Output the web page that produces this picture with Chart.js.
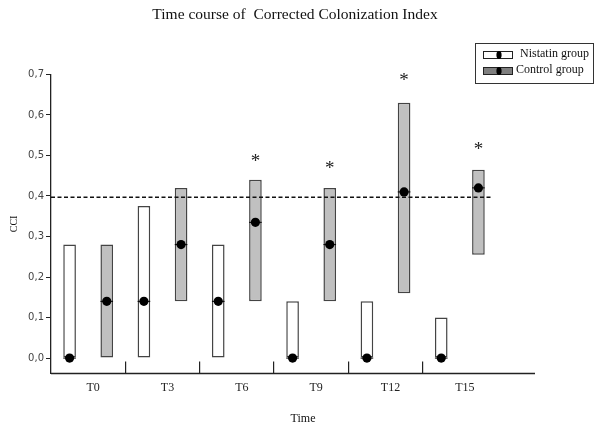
<!DOCTYPE html>
<html>
<head>
<meta charset="utf-8">
<script src="https://cdn.jsdelivr.net/npm/chart.js@4"></script>
<style>
  html, body { margin: 0; padding: 0; background: #fff; }
  canvas { display: block; }
</style>
</head>
<body>
<canvas id="cciChart" width="600" height="432"></canvas>
<script>
// Time course of the Corrected Colonization Index (CCI): range bars + median dots per group

const timePoints = ["T0", "T3", "T6", "T9", "T12", "T15"];

// range bars [min, max]
const nistatinRange = [[0, 0.28], [0, 0.375], [0, 0.28], [0, 0.14], [0, 0.14], [0, 0.10]];
const controlRange = [[0, 0.28], [0.14, 0.42], [0.14, 0.44], [0.14, 0.42], [0.16, 0.63], [0.255, 0.465]];

// medians (black dots)
const nistatinMedian = [0, 0.14, 0.14, 0, 0, 0];
const controlMedian = [0.14, 0.28, 0.335, 0.28, 0.41, 0.42];

// height of the significance asterisks above the control bars
const starLevel = [null, null, 0.494, 0.478, 0.695, 0.524];

// dashed cut-off line
const cutOff = 0.397;

const yTicks = [0, 0.1, 0.2, 0.3, 0.4, 0.5, 0.6, 0.7];
const yTickLabels = ["0,0", "0,1", "0,2", "0,3", "0,4", "0,5", "0,6", "0,7"];

const serif = "'Liberation Serif', 'Times New Roman', serif";

// title, medians, cut-off, asterisks, legend and the x title
const extras = {
    id: "extras",
    afterDraw(chart) {
        const ctx = chart.ctx;
        const y = chart.scales.y;
        const x = chart.scales.x;
        const area = chart.chartArea;
        ctx.save();

        // title
        ctx.font = "15.5px " + serif;
        ctx.fillStyle = "#111";
        ctx.textAlign = "center";
        ctx.textBaseline = "middle";
        ctx.fillText("Time course of  Corrected Colonization Index", 295, 15);

        // cut-off line
        const cy = y.getPixelForValue(cutOff);
        ctx.strokeStyle = "#111";
        ctx.lineWidth = 1.4;
        ctx.setLineDash([4, 2.5]);
        ctx.beginPath();
        ctx.moveTo(area.left, cy);
        ctx.lineTo(area.right - 5, cy);
        ctx.stroke();
        ctx.setLineDash([]);

        // medians
        [nistatinMedian, controlMedian].forEach((vals, d) => {
            chart.getDatasetMeta(d).data.forEach((bar, i) => {
                const py = y.getPixelForValue(vals[i]);
                const half = bar.width / 2;
                ctx.strokeStyle = "#000";
                ctx.lineWidth = 1;
                ctx.beginPath();
                ctx.moveTo(bar.x - half, py);
                ctx.lineTo(bar.x + half, py);
                ctx.stroke();
                ctx.fillStyle = "#000";
                ctx.beginPath();
                ctx.arc(bar.x, py, 4.6, 0, Math.PI * 2);
                ctx.fill();
            });
        });

        // asterisks
        ctx.font = "19px " + serif;
        ctx.fillStyle = "#222";
        ctx.textAlign = "center";
        ctx.textBaseline = "alphabetic";
        const m = ctx.measureText("*");
        chart.getDatasetMeta(1).data.forEach((bar, i) => {
            if (starLevel[i] === null) return;
            const sy = y.getPixelForValue(starLevel[i]);
            ctx.fillText("*", bar.x, sy + (m.actualBoundingBoxAscent - m.actualBoundingBoxDescent) / 2);
        });

        // x axis runs on past the last group
        ctx.strokeStyle = "#222";
        ctx.lineWidth = 1.3;
        ctx.beginPath();
        ctx.moveTo(area.left, x.top);
        ctx.lineTo(area.right + 38, x.top);
        ctx.stroke();

        // x title
        ctx.font = "12px " + serif;
        ctx.fillStyle = "#111";
        ctx.textBaseline = "middle";
        ctx.fillText("Time", 303, 419);

        // legend
        ctx.strokeStyle = "#333";
        ctx.lineWidth = 1;
        ctx.strokeRect(475.5, 43.5, 118, 40);
        const iconFill = ["#ffffff", "#7f7f7f"];
        const textX = [520, 516];
        chart.data.datasets.forEach((ds, d) => {
            const ry = 55 + d * 16;
            ctx.fillStyle = iconFill[d];
            ctx.fillRect(483.5, ry - 3.5, 29, 7);
            ctx.strokeStyle = "#222";
            ctx.strokeRect(483.5, ry - 3.5, 29, 7);
            ctx.fillStyle = "#000";
            ctx.beginPath();
            ctx.ellipse(499, ry, 2.6, 4, 0, 0, Math.PI * 2);
            ctx.fill();
            ctx.font = "12px " + serif;
            ctx.fillStyle = "#111";
            ctx.textAlign = "left";
            ctx.textBaseline = "middle";
            ctx.fillText(ds.label, textX[d], ry - 1);
        });

        ctx.restore();
    }
};

new Chart(document.getElementById("cciChart"), {
    type: "bar",
    data: {
        labels: timePoints,
        datasets: [
            {
                label: "Nistatin group",
                data: nistatinRange,
                backgroundColor: "#ffffff",
                borderColor: "#444",
                borderWidth: 1.5,
                borderSkipped: false
            },
            {
                label: "Control group",
                data: controlRange,
                backgroundColor: "#c0c0c0",
                borderColor: "#444",
                borderWidth: 1.5,
                borderSkipped: false
            }
        ]
    },
    options: {
        responsive: false,
        animation: false,
        layout: { padding: { left: 0, right: 103, top: 74.4, bottom: 0 } },
        datasets: { bar: { categoryPercentage: 1, barPercentage: 0.34 } },
        plugins: {
            legend: { display: false },
            tooltip: { enabled: false },
            title: { display: false }
        },
        scales: {
            x: {
                grid: {
                    display: true,
                    drawOnChartArea: false,
                    drawTicks: true,
                    tickLength: -12,
                    offset: true,
                    lineWidth: 1.2,
                    color: c => (c.type === "tick" && c.index > 0 ? "#222" : "rgba(0,0,0,0)")
                },
                border: { display: false },
                ticks: {
                    padding: 19,
                    labelOffset: 5,
                    font: { family: serif, size: 12 },
                    color: "#222"
                },
                afterFit: s => { s.height = 58.5; }
            },
            y: {
                min: -0.038,
                max: 0.7,
                afterBuildTicks: s => { s.ticks = yTicks.map(v => ({ value: v })); },
                ticks: {
                    includeBounds: false,
                    padding: 2,
                    callback: (v, i) => yTickLabels[i],
                    font: { family: "'DejaVu Sans', Verdana, sans-serif", size: 10 },
                    color: "#444"
                },
                grid: { drawOnChartArea: false, tickLength: 5, color: "#222" },
                border: { display: true, color: "#222", width: 1.3 },
                title: {
                    display: true,
                    text: "CCI",
                    font: { family: serif, size: 10 },
                    color: "#111",
                    padding: { top: 8, bottom: 0 }
                },
                afterFit: s => { s.width = 51; }
            }
        }
    },
    plugins: [extras]
});
</script>
</body>
</html>
